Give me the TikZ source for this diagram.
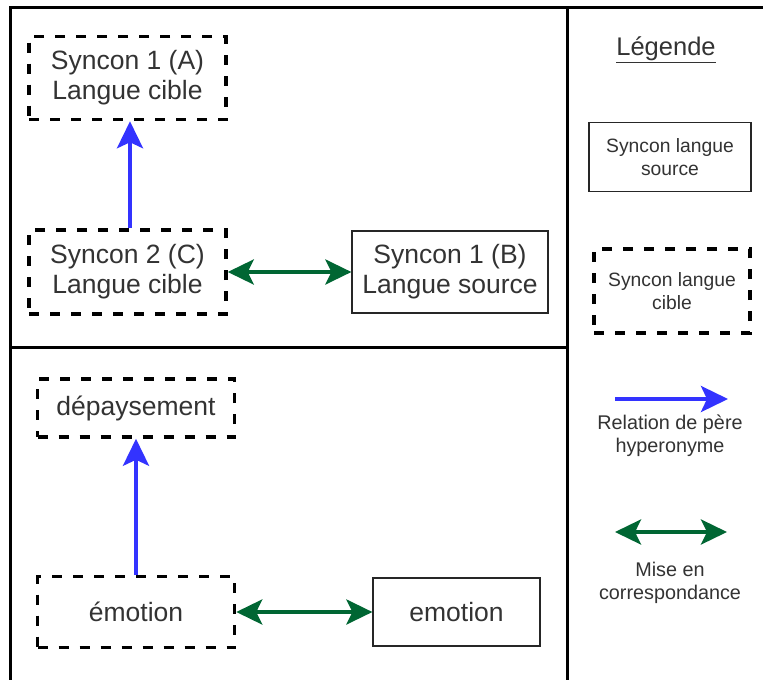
\documentclass[tikz,border=0pt]{standalone}
\usepackage{fontspec}
\setmainfont{Liberation Sans}
\usetikzlibrary{arrows.meta}
\definecolor{hyperblue}{RGB}{51,51,255}
\definecolor{matchgreen}{RGB}{0,102,51}
\definecolor{txtgray}{RGB}{51,51,51}
\tikzset{
  frameline/.style={draw=black, line width=3pt},
  srcbox/.style={draw=black!85, line width=1.2pt, minimum width=#1, align=center, text=txtgray, inner sep=0pt},
  tgtbox/.style={draw=black, line width=3.5pt, dash pattern=on 10pt off 11pt, minimum width=#1, align=center, text=txtgray, inner sep=0pt},
  bigtxt/.style={font=\fontsize{26.5}{30}\selectfont},
  smalltxt/.style={font=\fontsize{19.3}{23}\selectfont},
  hyper/.style={draw=hyperblue, line width=4pt, -{Stealth[length=27pt,width=26pt,inset=6pt]}},
  match/.style={draw=matchgreen, line width=4pt, {Stealth[length=26pt,width=25pt,inset=6pt]}-{Stealth[length=26pt,width=25pt,inset=6pt]}},
  lgtext/.style={align=center, text=txtgray, font=\fontsize{19.8}{23}\selectfont}
}
\begin{document}
\begin{tikzpicture}[x=1pt,y=-1pt]
\clip (0,0) rectangle (763,680);
\fill[white] (0,0) rectangle (763,680);
% frames
\draw[frameline] (10,7) rectangle (767,682);
\draw[frameline] (567,7) -- (567,682);
\draw[frameline] (10,347) -- (567,347);
% top panel
\node[tgtbox=197pt, minimum height=83pt, bigtxt] (A) at (127.5,78) {Syncon 1 (A)\\Langue cible};
\node[tgtbox=197pt, minimum height=84pt, bigtxt] (C) at (127.5,272) {Syncon 2 (C)\\Langue cible};
\node[srcbox=196pt, minimum height=82pt, bigtxt] (B) at (450,272) {Syncon 1 (B)\\Langue source};
\draw[hyper] (C.north -| 130,0) -- (A.south -| 130,0);
\draw[match] (C.east) -- (B.west);
% bottom panel
\node[tgtbox=197pt, minimum height=58pt, bigtxt] (D) at (136,408) {dépaysement};
\node[tgtbox=197pt, minimum height=71pt, bigtxt] (E) at (136,612) {émotion};
\node[srcbox=167pt, minimum height=68pt, bigtxt] (F) at (456.5,612) {emotion};
\draw[hyper] (E.north) -- (D.south);
\draw[match] (E.east) -- (F.west);
% legend
\node[text=txtgray, font=\fontsize{25.5}{30}\selectfont] (L) at (666,50) {\underline{Légende}};
\node[srcbox=162pt, minimum height=69pt, smalltxt] (LS) at (670,157) {Syncon langue\\source};
\node[tgtbox=156pt, minimum height=84pt, smalltxt] (LT) at (672,291) {Syncon langue\\cible};
\coordinate (h1) at (615,399);
\coordinate (h2) at (728,399);
\draw[hyper] (h1) -- (h2);
\node[lgtext] (HT) at (670,436) {Relation de père\\hyperonyme};
\coordinate (m1) at (615,532);
\coordinate (m2) at (727,532);
\draw[match] (m1) -- (m2);
\node[lgtext] (MT) at (670,583) {Mise en\\correspondance};
\end{tikzpicture}
\end{document}
